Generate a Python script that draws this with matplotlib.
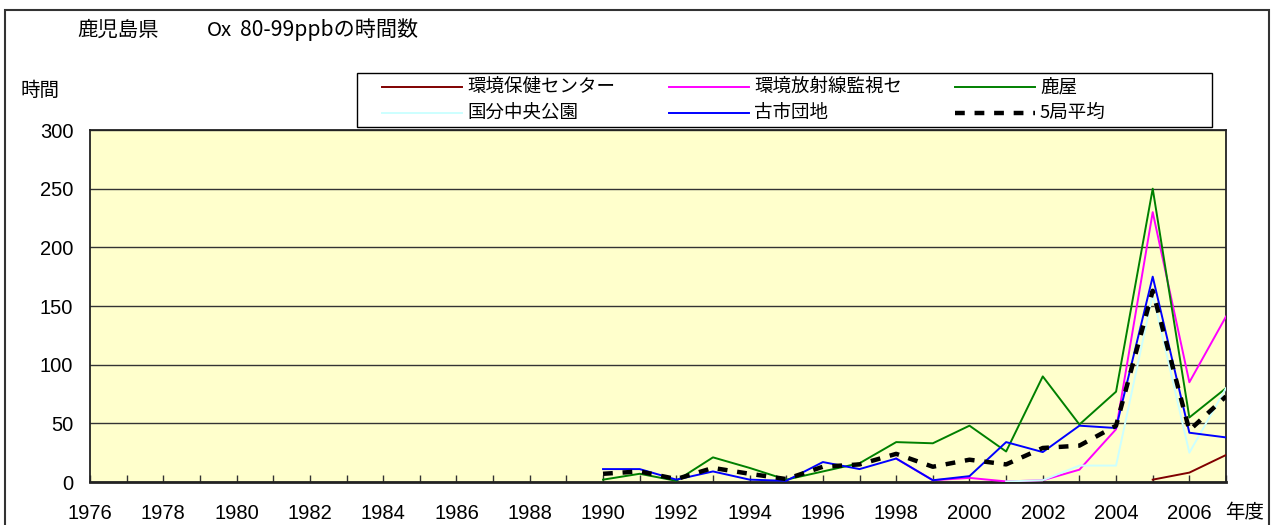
import numpy as np
import matplotlib
matplotlib.use("Agg")
import matplotlib.pyplot as plt
from matplotlib.patches import Rectangle
from matplotlib.lines import Line2D

plt.rcParams['font.family'] = ['Noto Sans CJK JP', 'DejaVu Sans']

title_pref = "鹿児島県"
title_ox = "Ox"
title_rest = "80-99ppbの時間数"
y_label = "時間"
x_unit = "年度"

years = list(range(1976, 2008))
nan = np.nan

# values by year 1990..2007 (earlier years: no data)
pad_years = [nan] * (1990 - 1976)
hoken = pad_years + [nan, nan, nan, nan, nan, nan, nan, nan, nan, nan, nan, nan, nan, nan, nan, 2, 8, 23]
houshasen = pad_years + [nan, nan, nan, nan, nan, nan, nan, nan, 20, 1.5, 3.5, 0.5, 1.5, 10.5, 45, 230, 85, 141]
kanoya = pad_years + [2, 7, 1, 21, 12, 2, 9, 16, 34, 33, 48, 26, 90, 49, 77, 250, 55, 80]
kokubu = pad_years + [nan, nan, nan, nan, nan, nan, nan, nan, nan, nan, nan, 0.5, 1.5, 14, 14, 160, 25, 80]
furuichi = pad_years + [11, 11, 2, 9, 2, 1, 17, 11, 20, 1.5, 5, 34, 25.5, 48, 46, 175, 42, 38]
average = pad_years + [7, 9, 2.5, 12, 7, 2.5, 13, 15, 24, 13, 19, 15, 29, 31, 48, 163, 44, 73]

series_names = ["環境保健センター", "環境放射線監視セ", "鹿屋", "国分中央公園", "古市団地", "5局平均"]
series_data = [hoken, houshasen, kanoya, kokubu, furuichi, average]
series_colors = ["#800000", "#FF00FF", "#008000", "#CCFFFF", "#0000FF", "#000000"]

W, H = 1277, 525
fig = plt.figure(figsize=(W / 100, H / 100), dpi=100)
fig.patch.set_facecolor("white")

L, R, T, B = 90, 1226, 130, 482
ax = fig.add_axes([L / W, 1 - B / H, (R - L) / W, (B - T) / H])
ax.set_facecolor("#FFFFCC")

AVG_STYLE = dict(lw=3.2, linestyle=(0, (2.2, 2.2)))
LINE_STYLE = dict(lw=1.4)

for name, data, col in zip(series_names, series_data, series_colors):
    if name == "5局平均":
        ax.plot(years, data, color=col, zorder=5, **AVG_STYLE)
    else:
        ax.plot(years, data, color=col, zorder=4, **LINE_STYLE)

ax.set_xlim(1976, 2007)
ax.set_ylim(0, 300)
ax.set_yticks(range(0, 301, 50))
ax.set_xticks(range(1976, 2007, 2))
ax.set_xticks(range(1976, 2008), minor=True)
ax.grid(axis="y", color="#333333", lw=1.0, zorder=1)
ax.set_axisbelow(True)
ax.tick_params(axis="y", length=0, pad=12, labelsize=14.5)
ax.tick_params(axis="x", which="both", direction="in", length=5, width=1, color="#333333",
               pad=15.5, labelsize=14.5)
for lab in ax.get_xticklabels() + ax.get_yticklabels():
    lab.set_family(["Liberation Sans", "DejaVu Sans"])
for s in ax.spines.values():
    s.set_color("#222222")
    s.set_linewidth(1.3)
ax.spines["bottom"].set_linewidth(2)

# figure frame
fig.add_artist(Rectangle((5 / W, -0.05), (1269 - 5) / W, (1 - 10 / H) + 0.05,
                         transform=fig.transFigure, fill=False, edgecolor="#333333", lw=1.5))

fig.text(77 / W, 1 - 30 / H, title_pref, fontsize=14.7, va="center", ha="left")
fig.text(207 / W, 1 - 30 / H, title_ox, fontsize=14.7, va="center", ha="left")
fig.text(240 / W, 1 - 30 / H, title_rest, fontsize=15.2, va="center", ha="left")
fig.text(20 / W, 1 - 90 / H, y_label, fontsize=14, va="center", ha="left")
fig.text(1225 / W, 1 - 512 / H, x_unit, fontsize=14, va="center", ha="left")

# legend drawn in Excel style: 3 equal columns, 2 rows
fig.add_artist(Rectangle((357 / W, 1 - 127 / H), (1212 - 357) / W, 54 / H,
                         transform=fig.transFigure, facecolor="white",
                         edgecolor="#000000", lw=1.0, zorder=6))
col_x = [382, 669, 955]
row_y = [87, 113]
hlen = 80
for i, (name, col) in enumerate(zip(series_names, series_colors)):
    r, c = divmod(i, 3)
    x0 = col_x[c]
    y0 = 1 - row_y[r] / H
    style = AVG_STYLE if name == "5局平均" else LINE_STYLE
    fig.add_artist(Line2D([x0 / W, (x0 + hlen) / W], [y0, y0], color=col,
                          transform=fig.transFigure, zorder=7, **style))
    fig.text((x0 + hlen + 5) / W, y0, name, fontsize=13.3, va="center", ha="left", zorder=7)

fig.savefig("out.png", dpi=100)
